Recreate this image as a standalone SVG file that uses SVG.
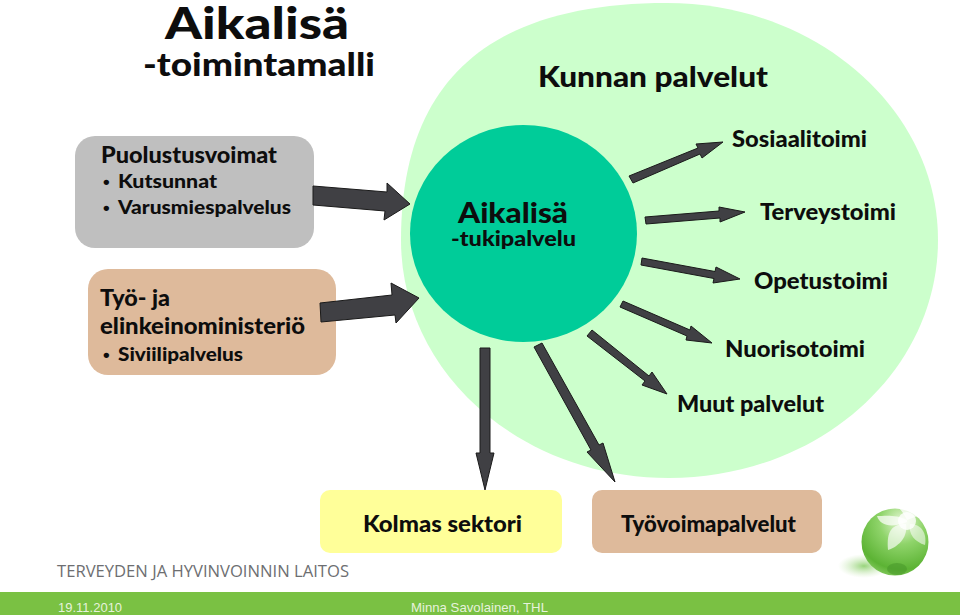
<svg xmlns="http://www.w3.org/2000/svg" width="960" height="615" viewBox="0 0 960 615">
<style>
text{font-family:"Lato","Liberation Sans",sans-serif;font-weight:900;fill:#0d0d0d}
.arrow{fill:#404044;stroke:#1a1a1a;stroke-width:1;stroke-linejoin:miter}
.l{font-size:23px}
.s{font-size:19.5px}
.b{font-family:"Liberation Sans",sans-serif;font-size:19px;font-weight:700}
.f{font-family:"Liberation Sans",Arial,sans-serif;font-weight:400;font-size:13px;fill:#e6f2dc}
</style>
<defs>
<radialGradient id="ball" cx="0.6" cy="0.2" r="0.95"><stop offset="0" stop-color="#e8f8d8"/><stop offset="0.35" stop-color="#8fd46a"/><stop offset="0.75" stop-color="#5cb334"/><stop offset="1" stop-color="#a4dc80"/></radialGradient>
<radialGradient id="shade" cx="0.5" cy="0.5" r="0.5"><stop offset="0" stop-color="#8ccf6c" stop-opacity="0.9"/><stop offset="1" stop-color="#c8e8b4" stop-opacity="0"/></radialGradient>
</defs>
<rect width="960" height="615" fill="#fff"/>
<rect x="0" y="592" width="960" height="23" fill="#7ac143"/>
<g id="title"><text x="165" y="39" font-size="43" textLength="184" lengthAdjust="spacingAndGlyphs">Aikalisä</text><text x="143" y="76" font-size="32" textLength="232" lengthAdjust="spacingAndGlyphs">-toimintamalli</text></g>
<g id="kunnan">
<path d="M401,240 C401,81 489,3 667,3 C816,3 938,109 938,240 C938,372 818,478 669,478 C520,478 401,372 401,240Z" fill="#ccffcc"/>
<text x="538" y="87" font-size="29" textLength="230" lengthAdjust="spacingAndGlyphs">Kunnan palvelut</text>
</g>
<g id="aikalisa">
<ellipse cx="523.5" cy="233.5" rx="113.5" ry="108.5" fill="#00cc99"/>
<text x="458" y="223" font-size="29" textLength="110" lengthAdjust="spacingAndGlyphs">Aikalisä</text>
<text x="451" y="246" font-size="20" textLength="125" lengthAdjust="spacingAndGlyphs">-tukipalvelu</text>
</g>
<g id="puolustus">
<rect x="75" y="136" width="239" height="112" rx="20" fill="#bfbfbf"/>
<text x="101" y="163" class="l" textLength="176" lengthAdjust="spacingAndGlyphs">Puolustusvoimat</text>
<text x="103" y="188" class="b">•</text><text x="118" y="188" class="s" textLength="99" lengthAdjust="spacingAndGlyphs">Kutsunnat</text>
<text x="103" y="214" class="b">•</text><text x="118" y="214" class="s" textLength="173" lengthAdjust="spacingAndGlyphs">Varusmiespalvelus</text>
</g>
<g id="tyo">
<rect x="88" y="269" width="248" height="106" rx="20" fill="#deba9b"/>
<text x="100" y="306" class="l" textLength="70" lengthAdjust="spacingAndGlyphs">Työ- ja</text>
<text x="100" y="334" class="l" textLength="205" lengthAdjust="spacingAndGlyphs">elinkeinoministeriö</text>
<text x="103" y="361" class="b">•</text><text x="118" y="361" class="s" textLength="125" lengthAdjust="spacingAndGlyphs">Siviilipalvelus</text>
</g>
<g id="sosiaali"><text x="732" y="147" class="l" textLength="135" lengthAdjust="spacingAndGlyphs">Sosiaalitoimi</text></g>
<g id="terveys"><text x="760" y="220" class="l" textLength="136" lengthAdjust="spacingAndGlyphs">Terveystoimi</text></g>
<g id="opetus"><text x="754" y="289" class="l" textLength="134" lengthAdjust="spacingAndGlyphs">Opetustoimi</text></g>
<g id="nuoriso"><text x="725" y="357" class="l" textLength="140" lengthAdjust="spacingAndGlyphs">Nuorisotoimi</text></g>
<g id="muut"><text x="677" y="412" class="l" textLength="147" lengthAdjust="spacingAndGlyphs">Muut palvelut</text></g>
<g id="kolmas">
<rect x="320" y="490" width="242" height="63" rx="10" fill="#ffff99"/>
<text x="363" y="532" class="l" textLength="159" lengthAdjust="spacingAndGlyphs">Kolmas sektori</text>
</g>
<g id="tyovoima">
<rect x="592" y="490" width="230" height="63" rx="10" fill="#deba9b"/>
<text x="621" y="532" class="l" textLength="175" lengthAdjust="spacingAndGlyphs">Työvoimapalvelut</text>
</g>
<g id="connectors">
<polygon class="arrow" points="313,186 387,192 387,183 410,204 384,220 385,211 313,205"/>
<polygon class="arrow" points="320,303 392,295 391,283 419,298 396,323 395,315 321,322"/>
<polygon class="arrow" points="629,176 698,148 696,144 723,142 702,158 700,154 633,183"/>
<polygon class="arrow" points="645,217 719,211 719,207 745,212 720,222 720,218 646,224"/>
<polygon class="arrow" points="642,258 715,271.5 716,267 740,279 713,283 714,278.5 641,265"/>
<polygon class="arrow" points="623,301 690,330 691,326 712,343 686,340 687,336 620,307"/>
<polygon class="arrow" points="592,330 649,376 652,372 667,394 642,385 645,381 587,336"/>
<polygon class="arrow" points="480,348 490,348 490,453 494,453 485,490 476,453 480,453"/>
<polygon class="arrow" points="534,347 542,343 599,445 603,443 615,482 587,452 591,450"/>
</g>
<g id="logo">
<ellipse cx="864" cy="566" rx="26" ry="12" fill="url(#shade)"/>
<circle cx="895" cy="542" r="33.5" fill="url(#ball)"/>
<ellipse cx="897" cy="569" rx="10" ry="6" fill="#4a9a2c" opacity="0.6"/>
<path d="M907,520 C896,514 884,516 877,516 C880,526 892,528 907,522Z" fill="#fff" opacity="0.7"/>
<path d="M907,520 C902,510 899,508 897,507 C907,506 916,510 920,515Z" fill="#fff" opacity="0.75"/>
<path d="M906,524 C893,524 886,530 888,550 C900,546 908,536 906,524Z" fill="#fff" opacity="0.65"/>
<path d="M910,524 C922,524 927,534 925,545 C915,542 908,534 910,524Z" fill="#fff" opacity="0.55"/>
<circle cx="907" cy="521" r="9" fill="#fff" opacity="0.8"/>
</g>
<g id="footer">
<text x="57" y="577" font-size="16" textLength="292" lengthAdjust="spacingAndGlyphs" style="font-family:'Open Sans','Lato',sans-serif;font-weight:400;fill:#6d6e71">TERVEYDEN JA HYVINVOINNIN LAITOS</text>
<text x="58" y="612" class="f">19.11.2010</text>
<text x="411" y="612" class="f" textLength="137" lengthAdjust="spacingAndGlyphs">Minna Savolainen, THL</text>
</g>
</svg>
